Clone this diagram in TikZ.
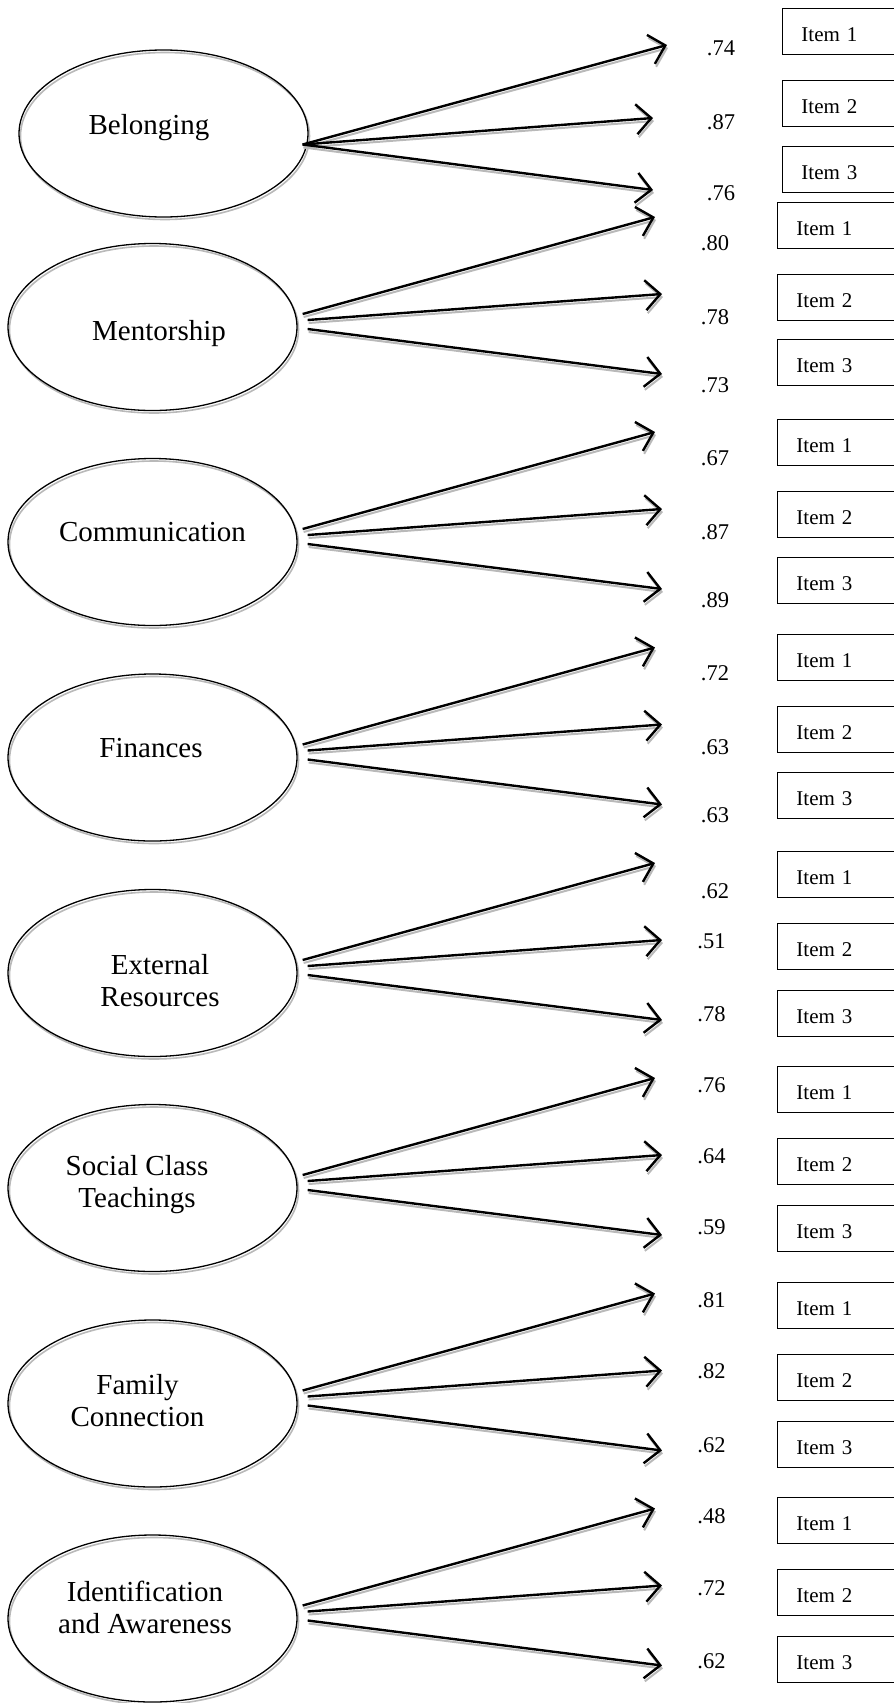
\documentclass[tikz,border=0pt]{standalone}
\usepackage{fontspec}
\setmainfont{Liberation Serif}
\usetikzlibrary{shapes.geometric, arrows.meta}

\begin{document}
\begin{tikzpicture}[x=1pt, y=-1pt,
        factor/.style={ellipse, draw, line width=1.3pt, minimum width=289pt, minimum height=167pt, inner sep=0pt,
            preaction={draw=gray!55, line width=1.6pt, transform canvas={shift={(1.5pt,-2.5pt)}}}},
        ftext/.style={font=\fontsize{29}{32}\selectfont, align=center},
        load/.style={line width=2.4pt, -{Straight Barb[length=15pt, width=30pt]},
            preaction={draw=gray!55, line width=2pt, -{Straight Barb[length=15pt, width=30pt]}, transform canvas={shift={(1pt,-3pt)}}}},
        coef/.style={font=\fontsize{22.5}{25}\selectfont},
        item/.style={draw, line width=0.9pt, anchor=west, minimum height=46pt, text width=100pt, inner xsep=19pt,
            text height=20pt, text depth=0pt, align=left, font=\fontsize{21}{24}\selectfont}]
        \useasboundingbox (0,0) rectangle (894,1703);
        \clip (0,0) rectangle (894,1703);

        \node[factor] (bel) at (163.5,133.5) {};
        \node[ftext] (belT) at (149,127.5) {Belonging};
        \coordinate (bel1) at (667,45);
        \coordinate (bel2) at (653,118);
        \coordinate (bel3) at (653,190);
        \draw[load] ([shift={(-6,11)}]bel.east) -- (bel1);
        \draw[load] ([shift={(-6,11)}]bel.east) -- (bel2);
        \draw[load] ([shift={(-6,11)}]bel.east) -- (bel3);
        \node[coef] (belL1) at (721,48) {.74};
        \node[coef] (belL2) at (721,122) {.87};
        \node[coef] (belL3) at (721,193) {.76};
        \node[item] (belI1) at (782,31) {Item 1};
        \node[item] (belI2) at (782,103.5) {Item 2};
        \node[item] (belI3) at (782,169) {Item 3};

        \node[factor] (men) at (152.5,327) {};
        \node[ftext] (menT) at (159,333.5) {Mentorship};
        \coordinate (men1) at (655,217);
        \coordinate (men2) at (662,294);
        \coordinate (men3) at (662,374);
        \draw[load] ([shift={(5,-13)}]men.east) -- (men1);
        \draw[load] ([shift={(10,-7)}]men.east) -- (men2);
        \draw[load] ([shift={(10,2)}]men.east) -- (men3);
        \node[coef] (menL1) at (715,243) {.80};
        \node[coef] (menL2) at (715,317) {.78};
        \node[coef] (menL3) at (715,385) {.73};
        \node[item] (menI1) at (777,225) {Item 1};
        \node[item] (menI2) at (777,297) {Item 2};
        \node[item] (menI3) at (777,362.5) {Item 3};

        \node[factor] (com) at (152.5,542) {};
        \node[ftext] (comT) at (152.5,532) {Communication};
        \coordinate (com1) at (655,432);
        \coordinate (com2) at (662,509);
        \coordinate (com3) at (662,589);
        \draw[load] ([shift={(5,-13)}]com.east) -- (com1);
        \draw[load] ([shift={(10,-7)}]com.east) -- (com2);
        \draw[load] ([shift={(10,2)}]com.east) -- (com3);
        \node[coef] (comL1) at (715,458) {.67};
        \node[coef] (comL2) at (715,532) {.87};
        \node[coef] (comL3) at (715,600) {.89};
        \node[item] (comI1) at (777,442) {Item 1};
        \node[item] (comI2) at (777,514) {Item 2};
        \node[item] (comI3) at (777,580) {Item 3};

        \node[factor] (fin) at (152.5,757.5) {};
        \node[ftext] (finT) at (151,748.5) {Finances};
        \coordinate (fin1) at (655,647.5);
        \coordinate (fin2) at (662,724.5);
        \coordinate (fin3) at (662,804.5);
        \draw[load] ([shift={(5,-13)}]fin.east) -- (fin1);
        \draw[load] ([shift={(10,-7)}]fin.east) -- (fin2);
        \draw[load] ([shift={(10,2)}]fin.east) -- (fin3);
        \node[coef] (finL1) at (715,673.5) {.72};
        \node[coef] (finL2) at (715,747.5) {.63};
        \node[coef] (finL3) at (715,815.5) {.63};
        \node[item] (finI1) at (777,657.5) {Item 1};
        \node[item] (finI2) at (777,729.5) {Item 2};
        \node[item] (finI3) at (777,795.5) {Item 3};

        \node[factor] (ext) at (152.5,973) {};
        \node[ftext] (extT) at (160,981) {External\\Resources};
        \coordinate (ext1) at (655,863);
        \coordinate (ext2) at (662,940);
        \coordinate (ext3) at (662,1020);
        \draw[load] ([shift={(5,-13)}]ext.east) -- (ext1);
        \draw[load] ([shift={(10,-7)}]ext.east) -- (ext2);
        \draw[load] ([shift={(10,2)}]ext.east) -- (ext3);
        \node[coef] (extL1) at (715,891) {.62};
        \node[coef] (extL2) at (711.5,941) {.51};
        \node[coef] (extL3) at (711.5,1014) {.78};
        \node[item] (extI1) at (777,874) {Item 1};
        \node[item] (extI2) at (777,946) {Item 2};
        \node[item] (extI3) at (777,1013) {Item 3};

        \node[factor] (soc) at (152.5,1188) {};
        \node[ftext] (socT) at (137,1185) {Social Class\\Teachings};
        \coordinate (soc1) at (655,1078);
        \coordinate (soc2) at (662,1155);
        \coordinate (soc3) at (662,1235);
        \draw[load] ([shift={(5,-13)}]soc.east) -- (soc1);
        \draw[load] ([shift={(10,-7)}]soc.east) -- (soc2);
        \draw[load] ([shift={(10,2)}]soc.east) -- (soc3);
        \node[coef] (socL1) at (711.5,1085) {.76};
        \node[coef] (socL2) at (711.5,1156) {.64};
        \node[coef] (socL3) at (711.5,1227.5) {.59};
        \node[item] (socI1) at (777,1089) {Item 1};
        \node[item] (socI2) at (777,1161) {Item 2};
        \node[item] (socI3) at (777,1228) {Item 3};

        \node[factor] (fam) at (152.5,1403.5) {};
        \node[ftext] (famT) at (137.5,1401) {Family\\Connection};
        \coordinate (fam1) at (655,1293.5);
        \coordinate (fam2) at (662,1370.5);
        \coordinate (fam3) at (662,1450.5);
        \draw[load] ([shift={(5,-13)}]fam.east) -- (fam1);
        \draw[load] ([shift={(10,-7)}]fam.east) -- (fam2);
        \draw[load] ([shift={(10,2)}]fam.east) -- (fam3);
        \node[coef] (famL1) at (711.5,1300) {.81};
        \node[coef] (famL2) at (711.5,1371) {.82};
        \node[coef] (famL3) at (711.5,1445) {.62};
        \node[item] (famI1) at (777,1305) {Item 1};
        \node[item] (famI2) at (777,1377) {Item 2};
        \node[item] (famI3) at (777,1444) {Item 3};

        \node[factor] (ide) at (152.5,1618.5) {};
        \node[ftext] (ideT) at (145,1607.5) {Identification\\and Awareness};
        \coordinate (ide1) at (655,1508.5);
        \coordinate (ide2) at (662,1585.5);
        \coordinate (ide3) at (662,1665.5);
        \draw[load] ([shift={(5,-13)}]ide.east) -- (ide1);
        \draw[load] ([shift={(10,-7)}]ide.east) -- (ide2);
        \draw[load] ([shift={(10,2)}]ide.east) -- (ide3);
        \node[coef] (ideL1) at (711.5,1516.5) {.48};
        \node[coef] (ideL2) at (711.5,1588) {.72};
        \node[coef] (ideL3) at (711.5,1661) {.62};
        \node[item] (ideI1) at (777,1520) {Item 1};
        \node[item] (ideI2) at (777,1592) {Item 2};
        \node[item] (ideI3) at (777,1659) {Item 3};
\end{tikzpicture}
\end{document}
